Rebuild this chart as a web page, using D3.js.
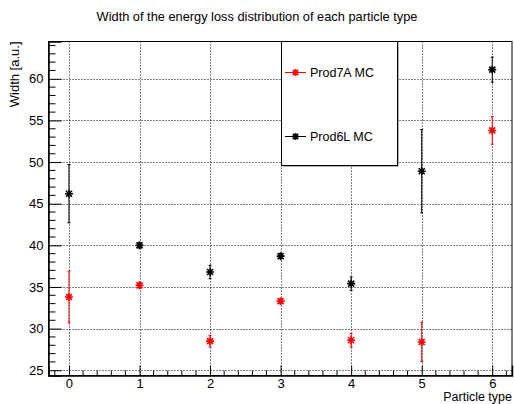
<!DOCTYPE html>
<html>
<head>
<meta charset="utf-8">
<script src="https://cdn.jsdelivr.net/npm/d3@7"></script>
<style>
  html, body { margin: 0; padding: 0; background: #fff; }
  svg { display: block; }
  text { font-family: "Liberation Sans", Arial, Helvetica, sans-serif; fill: #000; }
</style>
</head>
<body>
<svg id="chart" width="514" height="404"></svg>
<script>
// Particle type index on the x axis
const categories = [0, 1, 2, 3, 4, 5, 6];

// Width of the energy loss distribution, Prod7A MC
const prod7A = [33.8, 35.2, 28.5, 33.3, 28.6, 28.4, 53.8];
const prod7AErr = [3.1, 0.3, 0.7, 0.25, 0.8, 2.35, 1.65];

// Width of the energy loss distribution, Prod6L MC
const prod6L = [46.2, 40.0, 36.8, 38.7, 35.4, 48.9, 61.1];
const prod6LErr = [3.5, 0.3, 0.8, 0.3, 0.8, 5.0, 1.5];

const xTicks = [0, 1, 2, 3, 4, 5, 6];
const yTicks = [25, 30, 35, 40, 45, 50, 55, 60];

const titleText = "Width of the energy loss distribution of each particle type";
const xTitle = "Particle type";
const yTitle = "Width [a.u.]";
const legendLabels = ["Prod7A MC", "Prod6L MC"];

const series = [
  { name: legendLabels[0], values: prod7A, errors: prod7AErr, color: "#ff0000" },
  { name: legendLabels[1], values: prod6L, errors: prod6LErr, color: "#000000" }
];

const svg = d3.select("#chart");
const frame = { left: 48.5, right: 512, top: 41.5, bottom: 375.5 };

const x = d3.scaleLinear().domain([-0.29, 6.28]).range([frame.left, frame.right]);
const y = d3.scaleLinear().domain([24.37, 64.48]).range([frame.bottom, frame.top]);

// Dotted grid at the major ticks
const grid = svg.append("g").attr("stroke", "#000").attr("stroke-width", 1)
  .attr("stroke-dasharray", "1,2").attr("fill", "none");
grid.selectAll("line.gx").data(xTicks).join("line")
  .attr("x1", d => Math.round(x(d)) + 0.5).attr("x2", d => Math.round(x(d)) + 0.5)
  .attr("y1", frame.top).attr("y2", frame.bottom);
grid.selectAll("line.gy").data(yTicks).join("line")
  .attr("y1", d => Math.round(y(d)) + 0.5).attr("y2", d => Math.round(y(d)) + 0.5)
  .attr("x1", frame.left).attr("x2", frame.right);

// Frame
svg.append("rect")
  .attr("x", frame.left).attr("y", frame.top)
  .attr("width", frame.right - frame.left).attr("height", frame.bottom - frame.top)
  .attr("fill", "none").attr("stroke", "#000").attr("stroke-width", 1);

// Axes with inward ticks
const xMinor = d3.range(-0.2, 6.3, 0.2).map(v => +v.toFixed(1)).filter(v => !xTicks.includes(v) && x(v) < frame.right);
const yMinor = d3.range(25, 64.5, 1).filter(v => !yTicks.includes(v));

const xAxis = svg.append("g").attr("transform", `translate(0,${frame.bottom})`)
  .call(d3.axisBottom(x).tickValues(xTicks).tickSize(-10).tickPadding(6).tickFormat(d3.format("d")));
xAxis.append("g").selectAll("line").data(xMinor).join("line")
  .attr("x1", d => x(d)).attr("x2", d => x(d)).attr("y1", 0).attr("y2", -5)
  .attr("stroke", "#000");

const yAxis = svg.append("g").attr("transform", `translate(${frame.left},0)`)
  .call(d3.axisLeft(y).tickValues(yTicks).tickSize(-13).tickPadding(4).tickFormat(d3.format("d")));
yAxis.append("g").selectAll("line").data(yMinor).join("line")
  .attr("y1", d => y(d)).attr("y2", d => y(d)).attr("x1", 0).attr("x2", 7)
  .attr("stroke", "#000");

[xAxis, yAxis].forEach(a => {
  a.select(".domain").attr("stroke", "#000").attr("stroke-width", 1.5);
  a.selectAll(".tick line").attr("stroke", "#000");
  a.selectAll("text").style("font-size", "13px")
    .style("font-family", "'Liberation Sans', Arial, sans-serif").attr("fill", "#000");
});
xAxis.selectAll(".tick text").attr("dy", "0.71em").attr("y", 3);
yAxis.selectAll(".tick text").attr("x", -5);

// Star marker (ROOT "*"): horizontal, vertical and two diagonals
function star(g, cx, cy, r, color) {
  const d = r * 0.75;
  const p = `M${cx - r},${cy}L${cx + r},${cy}M${cx},${cy - r}L${cx},${cy + r}` +
    `M${cx - d},${cy - d}L${cx + d},${cy + d}M${cx - d},${cy + d}L${cx + d},${cy - d}`;
  g.append("path").attr("d", p).attr("stroke", color).attr("stroke-width", 1.6).attr("fill", "none");
}

// Data points with vertical error bars
series.forEach(s => {
  const g = svg.append("g");
  categories.forEach((c, i) => {
    const cx = x(c), v = s.values[i], e = s.errors[i];
    const yt = y(v + e), yb = y(v - e);
    g.append("line").attr("x1", cx).attr("x2", cx).attr("y1", yt).attr("y2", yb)
      .attr("stroke", s.color).attr("stroke-width", 1);
    [yt, yb].forEach(yy => g.append("line")
      .attr("x1", cx - 1.5).attr("x2", cx + 1.5).attr("y1", yy).attr("y2", yy)
      .attr("stroke", s.color).attr("stroke-width", 1));
    star(g, cx, y(v), 4, s.color);
  });
});

// Legend box with a thin shadow
const lg = { x: 281.5, y: 41.5, w: 116, h: 124 };
svg.append("rect").attr("x", lg.x + 1).attr("y", lg.y + 1).attr("width", lg.w).attr("height", lg.h)
  .attr("fill", "#666");
svg.append("rect").attr("x", lg.x).attr("y", lg.y).attr("width", lg.w).attr("height", lg.h)
  .attr("fill", "#fff").attr("stroke", "#000").attr("stroke-width", 1);
const entryY = [72.5, 136.5];
series.forEach((s, i) => {
  const g = svg.append("g");
  g.append("line").attr("x1", 285).attr("x2", 306).attr("y1", entryY[i]).attr("y2", entryY[i])
    .attr("stroke", s.color).attr("stroke-width", 1);
  star(g, 295.5, entryY[i], 3.5, s.color);
  g.append("text").attr("x", 310).attr("y", entryY[i] + 4.5)
    .style("font-size", "12.5px").text(s.name);
});

// Titles
svg.append("text").attr("x", 257).attr("y", 21).attr("text-anchor", "middle")
  .style("font-size", "12.8px").text(titleText);
svg.append("text").attr("x", frame.right).attr("y", 400.5).attr("text-anchor", "end")
  .style("font-size", "12.5px").text(xTitle);
svg.append("text").attr("transform", `translate(19,${frame.top}) rotate(-90)`)
  .attr("text-anchor", "end").style("font-size", "13px").text(yTitle);
</script>
</body>
</html>
